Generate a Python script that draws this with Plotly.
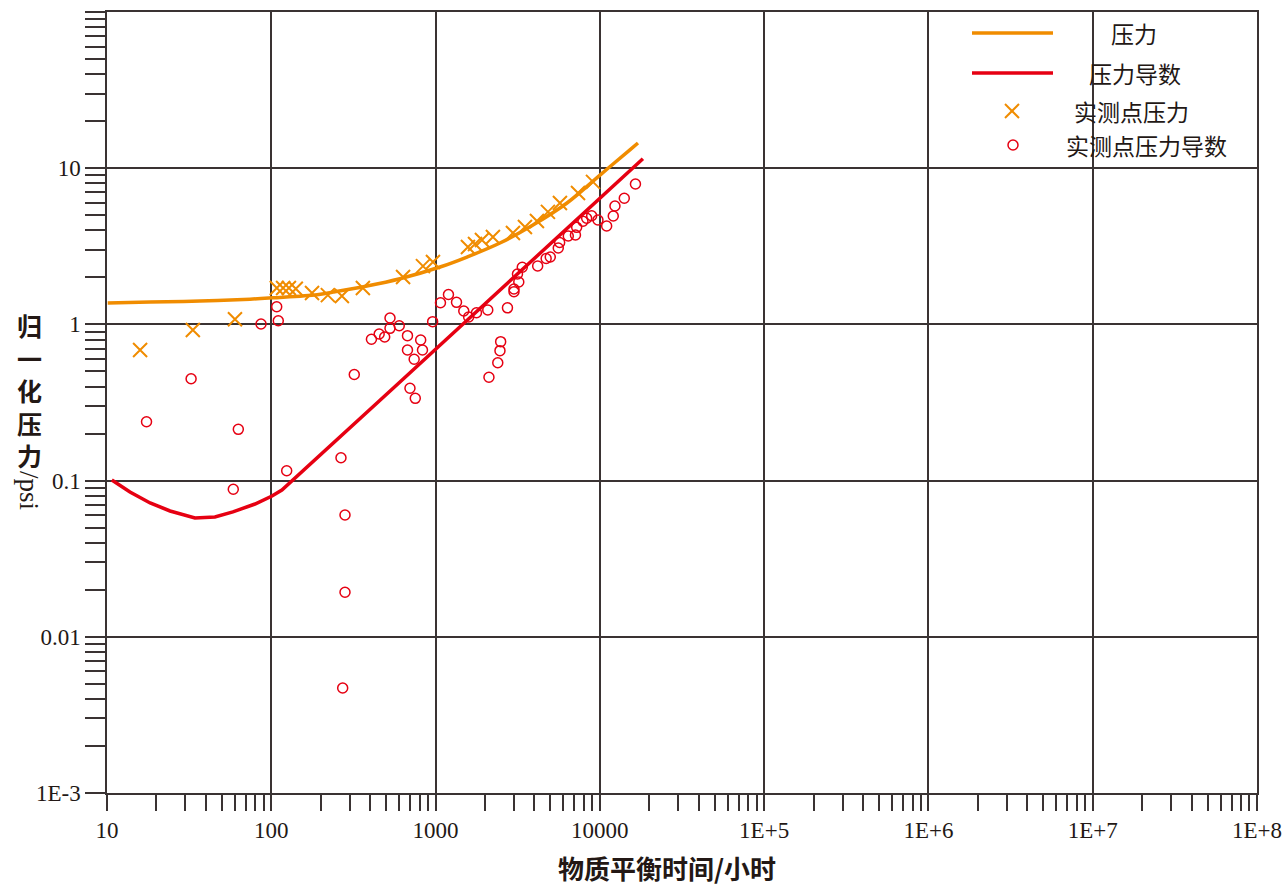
import plotly.graph_objects as go

# ---------------- data ----------------
# model pressure curve
pres_line_t = [10.1, 18.3, 36.8, 74.2, 102, 190, 238, 382, 607, 1064, 1553, 2466, 3918, 6310, 10020, 15240, 17060]
pres_line_p = [1.37, 1.39, 1.41, 1.45, 1.48, 1.55, 1.61, 1.76, 1.96, 2.33, 2.70, 3.32, 4.33, 5.99, 9.04, 13.1, 14.5]

# model pressure-derivative curve
deriv_line_t = [10.7, 13.8, 18.3, 24.2, 34.3, 45.4, 58.4, 79.6, 101, 116, 607, 2466, 10000, 18280]
deriv_line_v = [0.101, 0.0845, 0.0719, 0.0639, 0.0577, 0.0585, 0.0630, 0.0708, 0.0796, 0.0870, 0.428, 1.66, 6.45, 11.5]

# measured pressure points
meas_p_t = [15.9, 33.3, 60.1, 108, 118, 128, 141, 177, 221, 269, 361, 634, 838, 964,
            1574, 1738, 1915, 2234, 2958, 3499, 4140, 4830, 5715, 7362, 9084]
meas_p_v = [0.686, 0.92, 1.08, 1.71, 1.71, 1.71, 1.69, 1.59, 1.54, 1.52, 1.71, 2.01, 2.36, 2.51,
            3.13, 3.27, 3.47, 3.63, 3.85, 4.20, 4.59, 5.25, 5.99, 6.94, 8.17]

# measured pressure-derivative points
meas_d_t = [17.4, 32.5, 58.7, 63.0, 86.6, 107.9, 110.3, 124.1, 265.6, 281, 281, 272, 320,
            407, 453.6, 490, 528, 528, 601, 674.5, 674.5, 740.8, 811.6, 832.4, 698.5, 752.5,
            960, 1071, 1198, 1341, 1485, 1590, 1774, 2078, 2113, 2391, 2466, 2490, 2739,
            3001, 3001, 3210, 3152, 3371, 4183, 4711, 4990, 5582, 5693, 6424, 7104, 7225,
            7891, 8311, 8916, 9737, 11000, 12066, 12357, 14081, 16470]
meas_d_v = [0.238, 0.449, 0.0880, 0.213, 1.006, 1.298, 1.056, 0.1157, 0.140, 0.0602, 0.01927, 0.0047, 0.478,
            0.803, 0.868, 0.831, 1.099, 0.944, 0.981, 0.847, 0.686, 0.598, 0.795, 0.686, 0.390, 0.3364,
            1.041, 1.377, 1.554, 1.385, 1.218, 1.115, 1.188, 1.236, 0.4585, 0.5684, 0.679, 0.775, 1.277,
            1.620, 1.685, 1.868, 2.102, 2.321, 2.365, 2.642, 2.701, 3.084, 3.344, 3.681, 3.736, 4.183,
            4.578, 4.779, 4.958, 4.660, 4.266, 4.943, 5.728, 6.418, 7.92]

x_tickvals = [10, 100, 1000, 10000, 1e5, 1e6, 1e7, 1e8]
x_ticktext = ["10", "100", "1000", "10000", "1E+5", "1E+6", "1E+7", "1E+8"]
y_tickvals = [0.001, 0.01, 0.1, 1, 10, 100]
y_ticktext = ["1E-3", "0.01", "0.1", "1", "10", ""]

legend_names = ["压力", "压力导数", "实测点压力", "实测点压力导数"]
x_title = "物质平衡时间/小时"
y_title_cjk = ["归", "一", "化", "压", "力"]
y_title_unit = "/psi"

# ---------------- styles ----------------
ORANGE = "#F08C00"
RED = "#E60012"
GRID = "#3a3333"
TXT = "#231815"
SERIF = "Liberation Serif"
CJK = "Noto Sans CJK SC"

x_minor = [m * 10 ** e for e in range(1, 8) for m in range(2, 10)]
y_minor = [m * 10.0 ** e for e in range(-3, 2) for m in range(2, 10)]

fig = go.Figure()
fig.add_trace(go.Scatter(x=pres_line_t, y=pres_line_p, mode="lines",
                         line=dict(color=ORANGE, width=3.5, shape="spline"), name=legend_names[0]))
fig.add_trace(go.Scatter(x=deriv_line_t, y=deriv_line_v, mode="lines",
                         line=dict(color=RED, width=3.5), name=legend_names[1]))
fig.add_trace(go.Scatter(x=meas_p_t, y=meas_p_v, mode="markers",
                         marker=dict(symbol="x-thin", size=14, line=dict(color=ORANGE, width=2)),
                         name=legend_names[2]))
fig.add_trace(go.Scatter(x=meas_d_t, y=meas_d_v, mode="markers",
                         marker=dict(symbol="circle-open", size=10, color=RED, line=dict(color=RED, width=1.5)),
                         name=legend_names[3]))

axis_common = dict(
    type="log", showgrid=True, gridcolor=GRID, gridwidth=1.5,
    showline=True, linecolor=GRID, linewidth=1.5, mirror=True,
    ticks="outside", tickcolor=GRID, tickwidth=1.5, automargin=False,
    tickfont=dict(family=SERIF, size=23, color=TXT), zeroline=False,
)
fig.update_xaxes(range=[1, 8], tickmode="array", tickvals=x_tickvals, ticktext=x_ticktext, ticklen=16,
                 minor=dict(tickmode="array", tickvals=x_minor, ticks="outside", ticklen=16,
                            tickcolor=GRID, tickwidth=1.5, showgrid=False),
                 **axis_common)
fig.update_yaxes(range=[-3, 2], tickmode="array", tickvals=y_tickvals, ticktext=y_ticktext, ticklen=20,
                 minor=dict(tickmode="array", tickvals=y_minor, ticks="outside", ticklen=20,
                            tickcolor=GRID, tickwidth=1.5, showgrid=False),
                 **axis_common)

# plot area in pixels: x 107..1257, y 12..793
L, R, T, B = 107, 1257, 12, 793
def px(x):
    return (x - L) / (R - L)
def py(y):
    return (B - y) / (B - T)

annotations = []
shapes = []
# x title
annotations.append(dict(text="<b>" + x_title + "</b>", x=px(667), y=py(867), xref="paper", yref="paper",
                        showarrow=False, xanchor="center", yanchor="middle",
                        font=dict(family=CJK, size=26, color=TXT)))
# y title (vertical, upright CJK characters)
annotations.append(dict(text="<b>" + "<br>".join(y_title_cjk) + "</b>", x=px(29), y=py(390),
                        xref="paper", yref="paper", showarrow=False, xanchor="center", yanchor="middle",
                        font=dict(family=CJK, size=25, color=TXT)))
annotations.append(dict(text=y_title_unit, x=px(29), y=py(490), xref="paper", yref="paper",
                        showarrow=False, xanchor="center", yanchor="middle", textangle=90,
                        font=dict(family=SERIF, size=27, color=TXT)))

# custom legend
leg_rows_y = [33, 73, 111, 145]
leg_text_x = [1134, 1135, 1131, 1146]
for i, name in enumerate(legend_names):
    annotations.append(dict(text=name, x=px(leg_text_x[i]), y=py(leg_rows_y[i]), xref="paper", yref="paper",
                            showarrow=False, xanchor="center", yanchor="middle",
                            font=dict(family=CJK, size=23, color=TXT)))
for i, col in enumerate([ORANGE, RED]):
    shapes.append(dict(type="line", xref="paper", yref="paper", x0=px(972), x1=px(1053),
                       y0=py(leg_rows_y[i]), y1=py(leg_rows_y[i]), line=dict(color=col, width=3.5)))
# x symbol
for sgn in (1, -1):
    shapes.append(dict(type="line", xref="paper", yref="paper", xsizemode="pixel", ysizemode="pixel",
                       xanchor=px(1012), yanchor=py(leg_rows_y[2]), x0=-7, x1=7, y0=-7 * sgn, y1=7 * sgn,
                       line=dict(color=ORANGE, width=2)))
# circle symbol
shapes.append(dict(type="circle", xref="paper", yref="paper", xsizemode="pixel", ysizemode="pixel",
                   xanchor=px(1013), yanchor=py(leg_rows_y[3]), x0=-5, x1=5, y0=-5, y1=5,
                   line=dict(color=RED, width=1.5)))

fig.update_layout(width=1287, height=887, margin=dict(l=L, r=1287 - R, t=T, b=887 - B, autoexpand=False),
                  plot_bgcolor="white", paper_bgcolor="white", showlegend=False,
                  annotations=annotations, shapes=shapes)

fig.write_html("out.html", config={"displayModeBar": False},
               post_script="document.body.style.margin='0';document.body.style.overflow='hidden';")
